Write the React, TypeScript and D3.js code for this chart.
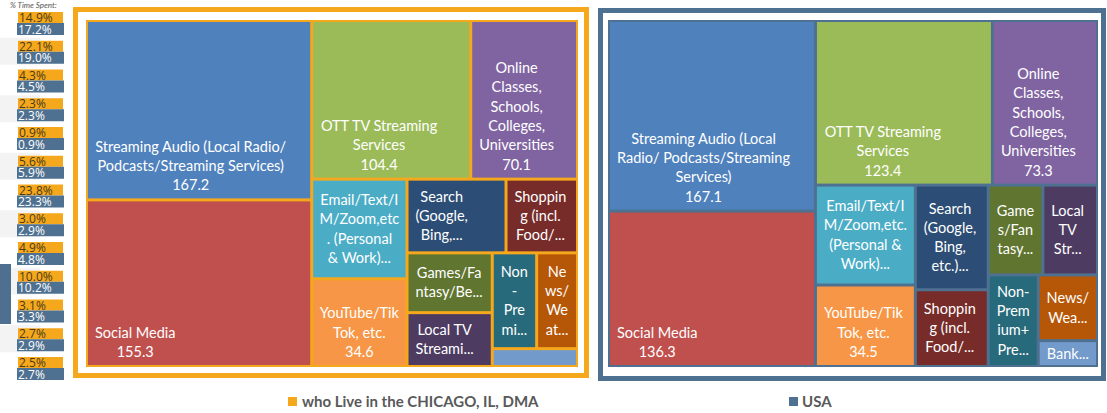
import React from "react";
import * as d3 from "d3";

// categories, in the order the treemap lists them (largest first)
const categories = [
  "Streaming Audio", "Social Media", "OTT TV Streaming", "Online Classes",
  "Email/Text/IM", "YouTube/TikTok", "Search", "Shopping", "Games/Fantasy",
  "Local TV Streaming", "Non-Premium+Premium", "News/Weather", "Banking",
];
// average minutes (small ones estimated from the % share)
const chicagoValues = [167.2, 155.3, 104.4, 70.1, 39.3, 34.6, 30.2, 21.8, 21.1, 19.0, 17.6, 16.2, 6.3];
const usaValues = [167.1, 136.3, 123.4, 73.3, 42.3, 34.5, 32.3, 23.7, 20.8, 20.8, 19.4, 16.5, 6.5];

const cellColors = [
  "#4F81BD", "#C0504D", "#9BBB59", "#8064A2", "#4BACC6", "#F79646",
  "#2C4D75", "#772C2A", "#5F7530", "#4D3B62", "#276A7C", "#B65708", "#729ACA",
];

// labels as the chart wraps / truncates them
const chicagoLabels = [
  ["Streaming Audio (Local Radio/", "Podcasts/Streaming Services)", "167.2"],
  ["Social Media", "155.3"],
  ["OTT TV Streaming", "Services", "104.4"],
  ["Online", "Classes,", "Schools,", "Colleges,", "Universities", "70.1"],
  ["Email/Text/I", "M/Zoom,etc", ". (Personal", "& Work)..."],
  ["YouTube/Tik", "Tok, etc.", "34.6"],
  ["Search", "(Google,", "Bing,..."],
  ["Shoppin", "g (incl.", "Food/..."],
  ["Games/Fa", "ntasy/Be..."],
  ["Local TV", "Streami..."],
  ["Non", "-", "Pre", "mi..."],
  ["Ne", "ws/", "We", "at..."],
  [],
];
const usaLabels = [
  ["Streaming Audio (Local", "Radio/ Podcasts/Streaming", "Services)", "167.1"],
  ["Social Media", "136.3"],
  ["OTT TV Streaming", "Services", "123.4"],
  ["Online", "Classes,", "Schools,", "Colleges,", "Universities", "73.3"],
  ["Email/Text/I", "M/Zoom,etc.", "(Personal &", "Work)..."],
  ["YouTube/Tik", "Tok, etc.", "34.5"],
  ["Search", "(Google,", "Bing,", "etc.)..."],
  ["Shoppin", "g (incl.", "Food/..."],
  ["Game", "s/Fan", "tasy..."],
  ["Local", "TV", "Str..."],
  ["Non-", "Prem", "ium+", "Pre..."],
  ["News/", "Wea..."],
  ["Bank..."],
];

// "% Time Spent" column on the left
const chicagoPct = [14.9, 22.1, 4.3, 2.3, 0.9, 5.6, 23.8, 3.0, 4.9, 10.0, 3.1, 2.7, 2.5];
const usaPct = [17.2, 19.0, 4.5, 2.3, 0.9, 5.9, 23.3, 2.9, 4.8, 10.2, 3.3, 2.9, 2.7];

const legendLabels = ["who Live in the CHICAGO, IL, DMA", "USA"];

const ORANGE = "#F5A81C";
const STEEL = "#4F7191";
const FONT = "Lato, 'Open Sans', sans-serif";
const FS = 14.5;
const LH = 19.3;

let measureCtx: CanvasRenderingContext2D | null = null;
function textWidth(s: string) {
  if (!measureCtx) measureCtx = document.createElement("canvas").getContext("2d");
  measureCtx!.font = `${FS}px Lato`;
  return measureCtx!.measureText(s).width;
}

// Excel's tiling is close to squarify; the ratio is tuned per panel
function layout(values: number[], w: number, h: number, ratio: number) {
  const root = d3
    .hierarchy<any>({ children: values.map((v, i) => ({ i, value: v })) })
    .sum((d) => d.value || 0)
    .sort((a, b) => (b.value || 0) - (a.value || 0));
  d3.treemap<any>()
    .tile(d3.treemapSquarify.ratio(ratio))
    .size([w, h])
    .paddingOuter(2)
    .paddingInner(3)(root);
  return root.leaves() as d3.HierarchyRectangularNode<any>[];
}

function CellLabel({ leaf, lines }: { leaf: d3.HierarchyRectangularNode<any>; lines: string[] }) {
  if (!lines.length) return null;
  const pad = 7;
  const blockW = Math.max(...lines.map(textWidth));
  const cx = Math.min(leaf.x0 + pad + blockW / 2, (leaf.x0 + leaf.x1) / 2);
  const truncated = lines.some((l) => l.endsWith("..."));
  let first;
  if (truncated) {
    // cut-off labels sit in the middle of the cell
    first = (leaf.y0 + leaf.y1) / 2 - (lines.length * LH) / 2 + LH / 2 + FS * 0.35;
  } else {
    // complete labels sit at the bottom-left
    first = leaf.y1 - 8 - (lines.length - 1) * LH;
  }
  return (
    <text fill="#fff" fontSize={FS} fontFamily={FONT} textAnchor="middle">
      {lines.map((l, k) => (
        <tspan key={k} x={cx} y={first + k * LH}>{l}</tspan>
      ))}
    </text>
  );
}

function Treemap({ x, y, w, h, values, labels, ratio, lineColor }: any) {
  const leaves = layout(values, w, h, ratio);
  return (
    <g transform={`translate(${x},${y})`}>
      <rect width={w} height={h} fill={lineColor} />
      {leaves.map((lf) => (
        <g key={lf.data.i}>
          <rect x={lf.x0} y={lf.y0} width={lf.x1 - lf.x0} height={lf.y1 - lf.y0} fill={cellColors[lf.data.i]} />
          <CellLabel leaf={lf} lines={labels[lf.data.i]} />
        </g>
      ))}
    </g>
  );
}

export default function App() {
  const rowY = d3.scaleBand<number>().domain(d3.range(chicagoPct.length)).range([12, 12 + 28.75 * 13]);

  return (
    <svg width={1107} height={413} style={{ position: "fixed", left: 0, top: 0, background: "#fff" }}>
      <defs>
        <clipPath id="pctClip">
          <rect x={0} y={0} width={64} height={413} />
        </clipPath>
      </defs>

      {/* faint left-side remnants */}
      {d3.range(1, 13, 2).map((i) => (
        <rect key={i} x={0} y={rowY(i)! - 3} width={40} height={27} fill="#f3f3f3" />
      ))}
      <rect x={0} y={264} width={11} height={60} fill="#4E7090" />

      <text x={10} y={8} fontSize={8} fontStyle="italic" fill="#555" fontFamily={FONT}>% Time Spent:</text>

      <g clipPath="url(#pctClip)">
        {chicagoPct.map((p, i) => {
          const y = rowY(i)!;
          return (
            <g key={i}>
              <rect x={18} y={y} width={45} height={11} fill={ORANGE} />
              <rect x={17} y={y + 11} width={47} height={12} fill={STEEL} />
              <text x={19} y={y + 10} fontSize={12} fill="#4a3a1a" fontFamily="'Open Sans', sans-serif">{p.toFixed(1)}%</text>
              <text x={18} y={y + 21.5} fontSize={12} fill="#fff" fontFamily="'Open Sans', sans-serif">{usaPct[i].toFixed(1)}%</text>
            </g>
          );
        })}
      </g>

      {/* Chicago panel */}
      <rect x={75.5} y={9.5} width={511} height={366} fill="none" stroke={ORANGE} strokeWidth={5} />
      <Treemap x={86} y={20} w={492} h={347} values={chicagoValues} labels={chicagoLabels} ratio={1.2} lineColor={ORANGE} />

      {/* USA panel */}
      <rect x={600.5} y={10.5} width={503} height={368} fill="none" stroke={STEEL} strokeWidth={5} />
      <Treemap x={608} y={20} w={490} h={347} values={usaValues} labels={usaLabels} ratio={1} lineColor={STEEL} />

      {/* legend */}
      <rect x={288} y={397} width={9} height={9} fill={ORANGE} />
      <text x={302} y={407} fontSize={15} fontWeight="bold" fill="#595959" fontFamily={FONT}>{legendLabels[0]}</text>
      <rect x={789} y={397} width={9} height={9} fill={STEEL} />
      <text x={802} y={407} fontSize={15} fontWeight="bold" fill="#595959" fontFamily={FONT}>{legendLabels[1]}</text>
    </svg>
  );
}
